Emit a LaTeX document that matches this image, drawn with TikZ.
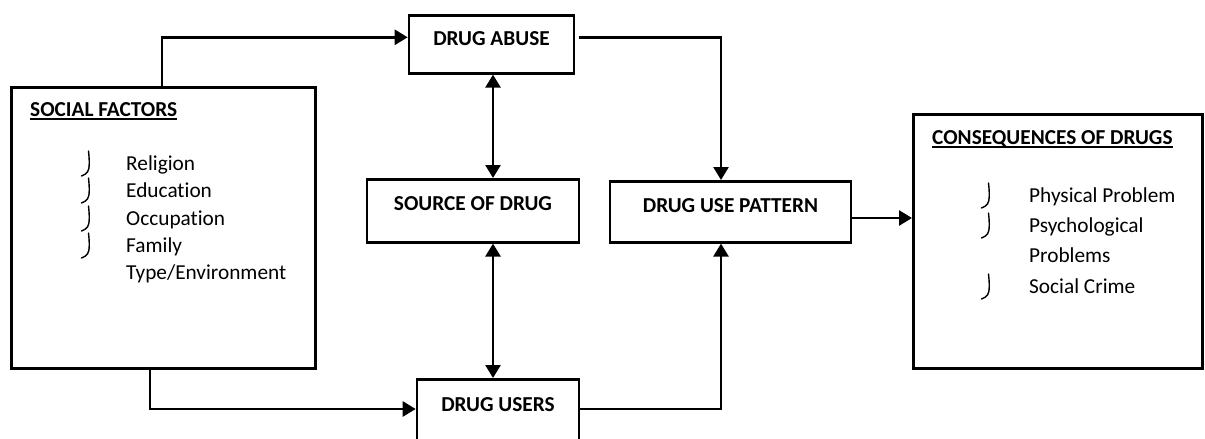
\documentclass[tikz,border=0pt]{standalone}
\usepackage{fontspec}
\setmainfont{Carlito}[Ligatures=NoCommon]
\usetikzlibrary{arrows.meta,calc}
\begin{document}
\begin{tikzpicture}[x=1pt,y=-1pt,
  every node/.style={font=\fontsize{21.3}{25}\selectfont},
  box/.style={draw, line width=2.6pt, inner sep=0pt},
  btext/.style={box, font=\fontsize{21.3}{25}\selectfont\bfseries},
  itm/.style={anchor=base west, inner sep=0pt},
  hd/.style={anchor=base west, inner sep=0pt, font=\fontsize{21.3}{25}\selectfont\bfseries},
  uline/.style={line width=1.8pt},
  conn/.style={line width=2.6pt, -{Triangle[length=13pt,width=15pt]}},
  dconn/.style={line width=2.6pt, {Triangle[length=13pt,width=15pt]}-{Triangle[length=13pt,width=15pt]}},
  bul/.style={line width=1.4pt, line cap=round}]
\clip (0,0) rectangle (1205,439);
\fill[white] (0,0) rectangle (1205,439);

% boxes
\node[box, anchor=north west, minimum width=304pt, minimum height=281pt] (social) at (10,86) {};
\node[btext, anchor=north, minimum width=165pt, text height=30pt, text depth=28pt] (abuse) at (491.5,14) {DRUG ABUSE\hspace{6pt}};
\node[btext, anchor=north, minimum width=212pt, text height=31pt, text depth=32pt] (source) at (473,178) {SOURCE OF DRUG\hspace{12pt}};
\node[btext, anchor=north, minimum width=241pt, text height=31pt, text depth=30pt] (pattern) at (730.5,180) {DRUG USE PATTERN\hspace{21pt}};
\node[btext, anchor=north, minimum width=162pt, text height=32pt, text depth=40pt] (users) at (498,378) {DRUG USERS\hspace{6pt}};
\node[box, anchor=north west, minimum width=289pt, minimum height=254pt] (conseq) at (912,113) {};

% social factors content
\node[hd] (sfh) at (30,116) {SOCIAL FACTORS};
\draw[uline] ([yshift=-3pt]sfh.base west) -- ([yshift=-3pt]sfh.base east);
\node[itm] (s1) at (126,170) {Religion};
\node[itm] (s2) at (126,197) {Education};
\node[itm] (s3) at (126,225) {Occupation};
\node[itm] (s4) at (126,252) {Family};
\node[itm] (s5) at (126,279) {Type/Environment};
\foreach \b in {170,197,225,252}
  \draw[bul] (88.5,\b-19) .. controls (89.5,\b-10) and (89.8,\b-1) .. (87.5,\b+2)
             .. controls (86,\b+4) and (84,\b+5) .. (81.5,\b+6);

% consequences content
\node[hd] (ch) at (932,144) {CONSEQUENCES OF DRUGS};
\draw[uline] ([yshift=-3pt]ch.base west) -- ([yshift=-3pt]ch.base east);
\node[itm] (c1) at (1029,202) {Physical Problem};
\node[itm] (c2) at (1029,232) {Psychological};
\node[itm] (c3) at (1029,262) {Problems};
\node[itm] (c4) at (1029,293) {Social Crime};
\foreach \b in {202,232,293}
  \draw[bul] (988.5,\b-19) .. controls (989.5,\b-10) and (989.8,\b-1) .. (987.5,\b+2)
             .. controls (986,\b+4) and (984,\b+5) .. (981.5,\b+6);

% helper coordinates
\coordinate (mid) at (493,0);
\coordinate (uy) at (0,409);
\coordinate (py) at (0,218);

% connectors
\draw[conn] ($(social.north west)+(152,0)$) |- ([yshift=7pt]abuse.west);
\draw[conn] ([xshift=4pt,yshift=7pt]abuse.east) -| ([xshift=-9.5pt]pattern.north);
\draw[dconn] (abuse.south -| mid) -- (source.north -| mid);
\draw[dconn] (source.south -| mid) -- (users.north -| mid);
\draw[conn] ($(social.south west)+(140,0)$) |- (users.west |- uy);
\draw[conn] (users.east |- uy) -| ([xshift=-9.5pt]pattern.south);
\draw[conn] (pattern.east |- py) -- (conseq.west |- py);
\end{tikzpicture}
\end{document}
